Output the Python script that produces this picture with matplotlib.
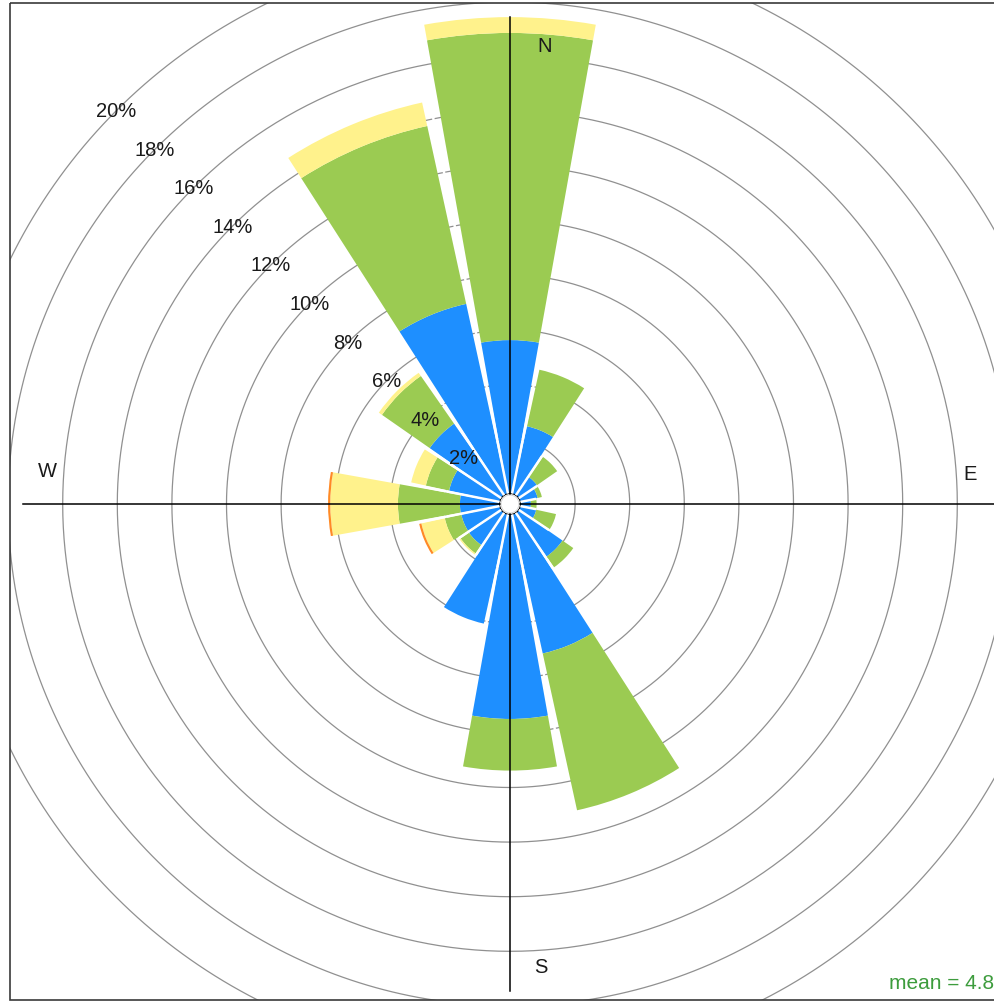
"""Wind rose: frequency by direction and speed class"""
import numpy as np
import matplotlib
matplotlib.use("Agg")
import matplotlib.pyplot as plt
from matplotlib.patches import Rectangle, Circle

plt.rcParams["font.family"] = ["Liberation Sans", "DejaVu Sans"]

directions = ["N", "NNE", "NE", "ENE", "E", "ESE", "SE", "SSE",
              "S", "SSW", "SW", "WSW", "W", "WNW", "NW", "NNW"]
# frequency (%) per speed class
blue = [5.62, 2.53, 0.82, 0.65, 0.38, 0.60, 1.96, 5.22,
        7.49, 4.10, 1.45, 1.44, 1.45, 1.90, 3.20, 7.12]
green = [11.25, 2.12, 0.90, 0.16, 0.21, 0.74, 0.48, 5.88,
         1.89, 0.00, 0.37, 0.62, 2.27, 0.87, 2.13, 6.67]
yellow = [0.58, 0, 0, 0, 0, 0, 0, 0,
          0, 0, 0.05, 0.88, 2.48, 0.55, 0.14, 0.88]
orange = [0, 0, 0, 0, 0, 0, 0, 0,
          0, 0, 0, 0.08, 0.08, 0, 0, 0]
ring_levels = [2, 4, 6, 8, 10, 12, 14, 16, 18, 20]
mean_text = "mean = 4.8"

classes = [(blue, "#1e8fff"), (green, "#9bcb52"),
           (yellow, "#fff28c"), (orange, "#ff8a26")]

W, H = 995, 1004
cx, cy = 510, 505          # centre in pixels (from top left)
hole = 10.5                # empty centre radius, px
scale = 27.3               # px per percent
rmax = 20.6
R = hole + scale * rmax

fig = plt.figure(figsize=(W / 100, H / 100), dpi=100, facecolor="white")
ax = fig.add_axes([(cx - R) / W, (H - cy - R) / H, 2 * R / W, 2 * R / H],
                  projection="polar")
ax.set_theta_zero_location("N")
ax.set_theta_direction(-1)
ax.set_rorigin(-hole / scale)
ax.set_ylim(0, rmax)
ax.set_xticks([])
ax.set_yticks([])
ax.grid(False)
ax.spines["polar"].set_visible(False)

# rings
t = np.linspace(0, 2 * np.pi, 721)
for lev in ring_levels:
    ax.plot(t, np.full_like(t, lev), color="#909090", lw=0.9, zorder=1)
    ax.text(np.deg2rad(315), lev, f"{lev}%", ha="center", va="center",
            fontsize=14.5, color="#1a1a1a", zorder=5)

# stacked bars
theta = np.deg2rad(np.arange(len(directions)) * 22.5)
width = np.deg2rad(20.3)
bottom = np.zeros(len(directions))
for vals, col in classes:
    vals = np.array(vals, dtype=float)
    ax.bar(theta, vals, width=width, bottom=bottom, color=col,
           linewidth=0, zorder=2)
    bottom += vals

# white separators between neighbouring sectors
for i in range(len(directions)):
    j = (i + 1) % len(directions)
    h = min(bottom[i], bottom[j])
    if h > 0:
        tb = theta[i] + np.deg2rad(11.25)
        ax.plot([tb, tb], [0, h], color="white", lw=1.8,
                solid_capstyle="butt", zorder=3)

# overlay in pixel coordinates: axes cross, labels, frame
ov = fig.add_axes([0, 0, 1, 1])
ov.set_zorder(3)
ov.set_xlim(0, W)
ov.set_ylim(H, 0)
ov.axis("off")

arm = 487
ov.plot([cx - arm, cx + arm], [cy, cy], color="black", lw=1.1)
ov.plot([cx, cx], [cy - arm, cy + arm], color="black", lw=1.1)
ov.add_patch(Circle((cx, cy), 9, facecolor="white", edgecolor="#d0d0d0",
                    lw=0.6, zorder=4))

lab = dict(fontsize=14.5, color="#1a1a1a", ha="center", va="center")
ov.text(545, 46, "N", **lab)
ov.text(541, 968, "S", **lab)
ov.text(47, 472, "W", **lab)
ov.text(970, 475, "E", **lab)

# clip everything to the frame
for x0, y0, w, h in [(0, 0, W, 4), (0, 0, 9.5, H), (0, 1001, W, 10)]:
    ov.add_patch(Rectangle((x0, y0), w, h, facecolor="white",
                           edgecolor="none", zorder=6))
ov.add_patch(Rectangle((9.5, 4), 1100, 997, fill=False, edgecolor="#3a3a3a",
                       lw=1.2, zorder=7))

ov.text(889, 984, mean_text, fontsize=15, color="#3d9c3d",
        ha="left", va="center")

fig.savefig("out.png", dpi=100, facecolor="white")
